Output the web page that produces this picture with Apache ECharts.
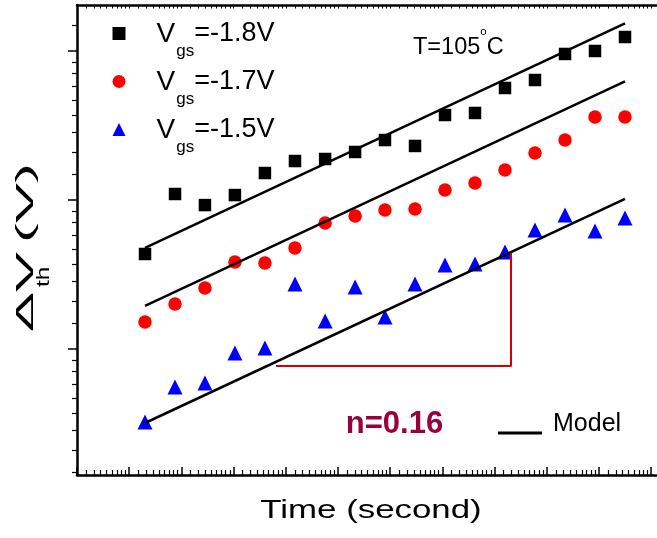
<!DOCTYPE html>
<html>
<head>
<meta charset="utf-8">
<script src="https://cdn.jsdelivr.net/npm/echarts@6/dist/echarts.min.js"></script>
<style>html,body{margin:0;padding:0;background:#fff}#c{width:657px;height:538px}</style>
</head>
<body>
<div id="c"></div>
<script>
// ---------- data (time in s, ΔVth in V) ----------
const times = [3.68, 6.54, 11.6, 20.6, 36.6, 65.1, 116, 206, 365, 649, 1153, 2048, 3638, 6463, 11490, 20400, 36250];
const seriesNames = ['Vgs=-1.8V', 'Vgs=-1.7V', 'Vgs=-1.5V'];
const dVth18 = [0.0942, 0.1409, 0.1308, 0.1399, 0.1622, 0.1758, 0.1782, 0.1868, 0.2024, 0.1945, 0.2394, 0.2427, 0.2870, 0.3028, 0.3606, 0.3679, 0.4041];
const dVth17 = [0.0597, 0.0673, 0.0750, 0.0893, 0.0887, 0.0981, 0.1160, 0.1215, 0.1265, 0.1274, 0.1447, 0.1517, 0.1655, 0.1855, 0.2024, 0.2362, 0.2362];
const dVth15 = [0.0305, 0.0386, 0.0396, 0.0485, 0.0501, 0.0770, 0.0601, 0.0755, 0.0617, 0.0770, 0.0875, 0.0881, 0.0955, 0.1107, 0.1224, 0.1099, 0.1199];
const modelTimes = [3.68, 36250];
const model18 = [0.0981, 0.4426];
const model17 = [0.0665, 0.3000];
const model15 = [0.0303, 0.1363];
const guideTimes = [45.3, 4081, 4081];
const guideValues = [0.0444, 0.0444, 0.0948];
const xTitle = 'Time (second)';
const yTitleParts = ['\u0394V', 'th', '(V)'];
const tempText = ['T=105', 'o', 'C'];
const slopeText = 'n=0.16';
const modelName = 'Model';

// ---------- axis ranges (natural-log units) ----------
const xLn = [0, 11.5];
const yLn = [-3.8456, -0.6913];
const FONT = "'Liberation Sans', Arial, Helvetica, sans-serif";

function majors(r) { const a = []; for (let n = Math.ceil(r[0]); n <= Math.floor(r[1]); n++) a.push(n); return a; }
function minors(r) {
  const a = [];
  for (let n = Math.floor(r[0]) - 1; n <= Math.ceil(r[1]); n++) {
    for (let k = 1; k <= 8; k++) {
      const v = n + Math.log(1 + k * (Math.E - 1) / 9);
      if (v > r[0] + 1e-6 && v < r[1] - 1e-6) a.push(+v.toFixed(5));
    }
  }
  return a;
}
function helperAxis(pos, r, vals, len, inside, width, showLine) {
  return {
    type: 'value', position: pos, min: r[0], max: r[1], silent: true,
    axisLine: { show: !!showLine, onZero: false, lineStyle: { color: '#000', width: 2.5 } },
    axisTick: { show: true, customValues: vals, inside: inside, length: len, lineStyle: { color: '#000', width: width } },
    axisLabel: { show: false }, splitLine: { show: false }, minorTick: { show: false }
  };
}
const blackAxisLine = { show: true, onZero: false, lineStyle: { color: '#000', width: 2.5 } };

const chart = echarts.init(document.getElementById('c'), null, { renderer: 'canvas' });
chart.setOption({
  animation: false,
  backgroundColor: '#fff',
  grid: { left: 77, top: 5, right: -20.3, bottom: 63, containLabel: false, outerBoundsMode: 'none' },
  xAxis: [
    { type: 'log', logBase: Math.E, position: 'bottom', min: Math.exp(xLn[0]), max: Math.exp(xLn[1]),
      axisLine: blackAxisLine, axisTick: { show: false }, axisLabel: { show: false }, splitLine: { show: false }, minorTick: { show: false } },
    helperAxis('bottom', xLn, majors(xLn), 8, true, 1.5, false),
    helperAxis('bottom', xLn, minors(xLn), 5, true, 1.2, false),
    helperAxis('top', xLn, majors(xLn).concat(minors(xLn)), 3.5, true, 1, true)
  ],
  yAxis: [
    { type: 'log', logBase: Math.E, position: 'left', min: Math.exp(yLn[0]), max: Math.exp(yLn[1]),
      axisLine: blackAxisLine, axisTick: { show: false }, axisLabel: { show: false }, splitLine: { show: false }, minorTick: { show: false } },
    helperAxis('left', yLn, majors(yLn), 9, false, 1.5, false),
    helperAxis('left', yLn, minors(yLn), 5, false, 1.2, false)
  ],
  legend: [
    {
      data: seriesNames, orient: 'vertical', left: 112.5, top: 20.5, padding: 0, itemGap: 9,
      itemWidth: 13, itemHeight: 13, selectedMode: false,
      formatter: n => '{a|V}{s|gs}{b|' + n.slice(3) + '}',
      textStyle: { rich: {
        a: { fontSize: 28, fontFamily: FONT, color: '#000', verticalAlign: 'top', padding: [13, 0, 0, 26] },
        s: { fontSize: 17, fontFamily: FONT, color: '#000', verticalAlign: 'top', padding: [35, 0, 0, 1] },
        b: { fontSize: 27, fontFamily: FONT, color: '#000', verticalAlign: 'top', padding: [13, 0, 0, 0] }
      } }
    },
    {
      data: [{ name: modelName, icon: 'rect' }], left: 498, top: 411.5, padding: 0, itemWidth: 44, itemHeight: 3, selectedMode: false,
      formatter: n => '{m|' + n + '}',
      textStyle: { rich: { m: { fontSize: 25, fontFamily: FONT, color: '#000', padding: [0, 0, 18, 6] } } }
    }
  ],
  series: [
    { name: seriesNames[0], type: 'scatter', symbol: 'rect', symbolSize: 12.5, itemStyle: { color: '#000', opacity: 1 }, z: 2,
      data: times.map((t, i) => [t, dVth18[i]]) },
    { name: seriesNames[1], type: 'scatter', symbol: 'circle', symbolSize: 13.5, itemStyle: { color: '#ff0000', opacity: 1 }, z: 2,
      data: times.map((t, i) => [t, dVth17[i]]) },
    { name: seriesNames[2], type: 'scatter', symbol: 'triangle', symbolSize: 15, itemStyle: { color: '#0000ff', opacity: 1 }, z: 2,
      data: times.map((t, i) => [t, dVth15[i]]) },
    { name: modelName, type: 'line', symbol: 'none', z: 3, itemStyle: { color: '#000' }, lineStyle: { color: '#000', width: 2.5 },
      data: modelTimes.map((t, i) => [t, model18[i]]) },
    { name: modelName, type: 'line', symbol: 'none', z: 3, itemStyle: { color: '#000' }, lineStyle: { color: '#000', width: 2.5 },
      data: modelTimes.map((t, i) => [t, model17[i]]) },
    { name: modelName, type: 'line', symbol: 'none', z: 3, itemStyle: { color: '#000' }, lineStyle: { color: '#000', width: 2.5 },
      data: modelTimes.map((t, i) => [t, model15[i]]) },
    { name: 'slope', type: 'line', symbol: 'none', z: 3, itemStyle: { color: '#d40000' }, lineStyle: { color: '#d40000', width: 2 },
      data: guideTimes.map((t, i) => [t, guideValues[i]]) }
  ],
  graphic: [
    { type: 'text', x: 413, y: 26.25, silent: true,
      style: { text: '{t|' + tempText[0] + '}{o|' + tempText[1] + '}{t|' + tempText[2] + '}', align: 'left', verticalAlign: 'top',
        rich: {
          t: { fontSize: 23.5, fontFamily: FONT, fill: '#000', verticalAlign: 'top', padding: [9, 0, 0, 0] },
          o: { fontSize: 11.5, fontFamily: FONT, fill: '#000', verticalAlign: 'top', padding: [0, 0, 0, 0] }
        } } },
    { type: 'text', x: 394.5, y: 424, silent: true,
      style: { text: slopeText, font: 'bold 31px ' + FONT, fill: '#99003d', align: 'center', verticalAlign: 'middle' } },
    { type: 'text', x: 371, y: 511, scaleX: 1.34, silent: true,
      style: { text: xTitle, font: '26px ' + FONT, fill: '#000', align: 'center', verticalAlign: 'middle' } },
    { type: 'text', x: 26.5, y: 332, rotation: Math.PI / 2, scaleX: 2.55, silent: true,
      style: { text: yTitleParts[0], font: '23.5px ' + FONT, fill: '#000', align: 'left', verticalAlign: 'middle' } },
    { type: 'text', x: 43.8, y: 287, rotation: Math.PI / 2, scaleX: 1.4, silent: true,
      style: { text: yTitleParts[1], font: '17.5px ' + FONT, fill: '#000', align: 'left', verticalAlign: 'middle' } },
    { type: 'text', x: 26.5, y: 243, rotation: Math.PI / 2, scaleX: 2.55, silent: true,
      style: { text: yTitleParts[2], font: '23.5px ' + FONT, fill: '#000', align: 'left', verticalAlign: 'middle' } }
  ]
});
</script>
</body>
</html>
